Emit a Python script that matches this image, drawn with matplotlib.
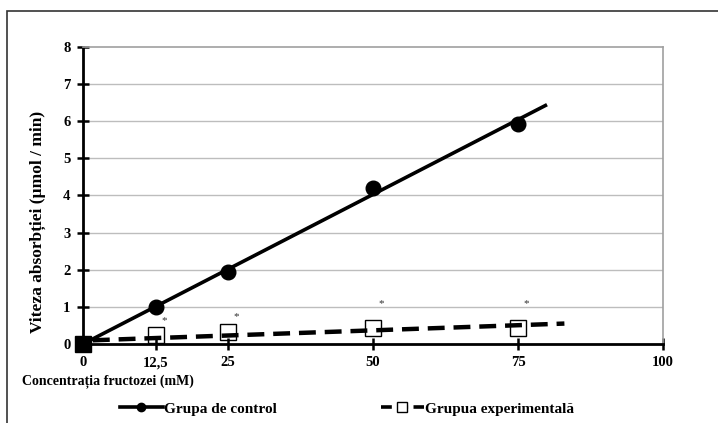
import matplotlib
matplotlib.use("Agg")
import matplotlib.pyplot as plt
from matplotlib.patches import Rectangle

# ---- data ----
conc = [0, 12.5, 25, 50, 75]
control = [0, 1.0, 1.95, 4.2, 5.92]
experimental = [0, 0.25, 0.32, 0.42, 0.44]
control_trend_x = [0, 80]
control_trend_y = [0, 6.44]
exp_trend_x = [1.7, 83]
exp_trend_y = [0.1, 0.55]
star_x = [12.5, 25, 50, 75]
star_y = [0.62, 0.75, 1.08, 1.08]
xticks = [0, 12.5, 25, 50, 75, 100]
xtick_labels = ["0", "12,5", "25", "50", "75", "100"]
yticks = [0, 1, 2, 3, 4, 5, 6, 7, 8]

plt.rcParams['font.family'] = ['Liberation Serif', 'DejaVu Serif']

W, H = 718, 423
fig = plt.figure(figsize=(W / 100, H / 100), dpi=100)
fig.patch.set_facecolor('white')

# outer frame
fig.patches.append(Rectangle((7 / W, -0.1), 1.2, 1 - 11 / H + 0.1,
                             transform=fig.transFigure, fill=False,
                             edgecolor='#333333', lw=1.2))

ax = fig.add_axes([83 / W, 1 - 344 / H, (663 - 83) / W, (344 - 46.7) / H])
ax.set_xlim(0, 100)
ax.set_ylim(0, 8)

for y in yticks[1:-1]:
    ax.axhline(y, color='#bdbdbd', lw=1.0, zorder=0)

ax.spines['top'].set_color('#a0a0a0')
ax.spines['right'].set_color('#a0a0a0')
ax.spines['top'].set_linewidth(1.2)
ax.spines['right'].set_linewidth(1.2)
ax.spines['left'].set_linewidth(2.0)
ax.spines['bottom'].set_linewidth(2.0)

ax.set_xticks(xticks)
ax.set_xticklabels(xtick_labels)
ax.set_yticks(yticks)
ax.tick_params(direction='inout', length=8, width=1.8, labelsize=10.5)
ax.tick_params(axis='x', pad=5)
ax.tick_params(axis='y', pad=5)
for lab in ax.get_xticklabels() + ax.get_yticklabels():
    lab.set_fontweight('bold')

# trend lines
ax.plot(control_trend_x, control_trend_y, color='black', lw=2.6, zorder=3,
        solid_capstyle='butt')
ax.plot(exp_trend_x, exp_trend_y, color='black', lw=3.2, zorder=3,
        dashes=(3.8, 2.0))

# markers
ax.plot(conc[1:], control[1:], 'o', color='black', ms=10.5, zorder=4, ls='none')
ax.plot(conc[1:], experimental[1:], 's', mfc='none', mec='black', mew=1.0,
        ms=11, zorder=4, ls='none')
ax.plot(conc[:1], experimental[:1], 's', color='black', ms=12, zorder=5,
        clip_on=False)

for sx, sy in zip(star_x, star_y):
    ax.annotate('*', (sx, sy), xytext=(6, 0), textcoords='offset points',
                ha='center', va='center', fontsize=8, color='#333333')

fig.text(38 / W, 1 - 222 / H, 'Viteza absorbției (µmol / min)', rotation=90,
         ha='center', va='center', fontsize=12.5, fontweight='bold')
fig.text(22 / W, 1 - 382 / H, 'Concentrația fructozei (mM)', ha='left',
         va='center', fontsize=10, fontweight='bold')

h1, = ax.plot([], [], '-o', color='black', lw=2.6, ms=6)
h2, = ax.plot([], [], 's', mfc='white', mec='black', ms=7, ls=(0, (3.0, 1.5)),
              color='black', lw=2.6)
leg = fig.legend([h1, h2], ['Grupa de control', 'Grupua experimentală'],
                 loc='center left', bbox_to_anchor=(120 / W, 1 - 409 / H),
                 ncol=2, frameon=False, fontsize=11, handlelength=2.8,
                 handletextpad=0.1, columnspacing=6.8, borderaxespad=0,
                 borderpad=0)
for t in leg.get_texts():
    t.set_fontweight('bold')

fig.savefig('out.png', dpi=100)
